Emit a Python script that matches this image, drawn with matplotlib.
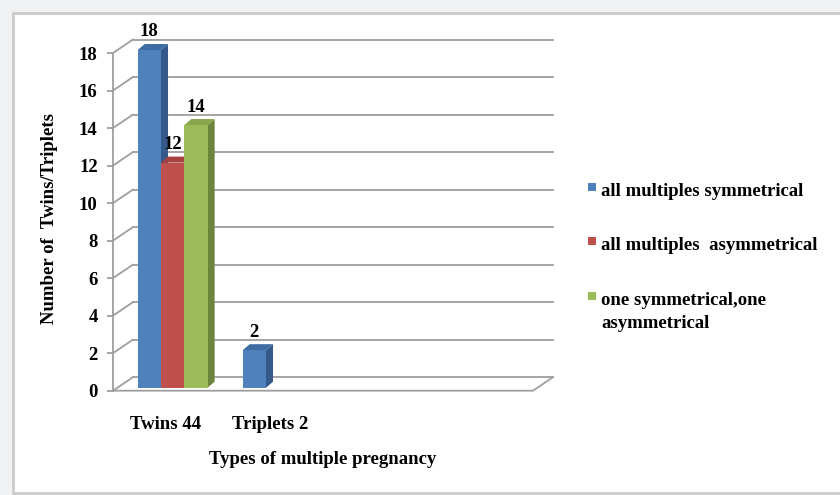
"""Bar chart of multiple pregnancy types drawn with a pseudo-3D look."""

import matplotlib
import matplotlib.pyplot as plt
from matplotlib.patches import Polygon, Rectangle

# no GUI backend
matplotlib.use('Agg')

categories = ['Twins 44', 'Triplets 2', '', '']
series = ['all multiples symmetrical',
          'all multiples  asymmetrical',
          'one symmetrical,one\nasymmetrical']
all_symmetrical = [18, 2, 0, 0]
all_asymmetrical = [12, 0, 0, 0]
one_each = [14, 0, 0, 0]
y_ticks = list(range(0, 20, 2))

front_colors = ['#4f81bd', '#c0504d', '#9bbb59']
top_colors = ['#3f6ca3', '#a8423f', '#87a64a']
side_colors = ['#35598a', '#8a3533', '#6c853c']
grid_color = '#9e9e9e'

plt.rcParams['font.family'] = ['Liberation Serif', 'DejaVu Serif']
plt.rcParams['font.weight'] = 'bold'

W, H = 840, 495
fig = plt.figure(figsize=(W / 100, H / 100), dpi=100)
fig.patch.set_facecolor('#f1f2f4')
fig.patches.append(Rectangle((13 / W, 1 - 493 / H), 1.0, 480 / H,
                             transform=fig.transFigure, facecolor='white',
                             edgecolor='#cbcbcb', linewidth=2, zorder=-5))

# axes: one category = 105 px, one unit of count = 18.76 px
x_max, y_max = 4.3, 19.5
ax = fig.add_axes([113 / W, 1 - 390.7 / H, x_max * 105 / W, y_max * 18.76 / H])
ax.set_xlim(0, x_max)
ax.set_ylim(0, y_max)
ax.patch.set_alpha(0)

# depth of the back wall and of the bars, in data units
wall_dx, wall_dy = 0.19, 0.72
bar_dx, bar_dy = 0.068, 0.16
depth_dx, depth_dy = 0.067, 0.32
bar_w = 0.222

n_cat = len(categories)

# back wall gridlines and the slanted lines joining them to the front axis
for v in y_ticks:
    ax.plot([wall_dx, n_cat + wall_dx], [v + wall_dy, v + wall_dy],
            color=grid_color, lw=1.3, zorder=1)
    ax.plot([0, wall_dx], [v, v + wall_dy], color=grid_color, lw=1.3, zorder=1)
# floor
ax.plot([0, n_cat, n_cat + wall_dx], [0, 0, wall_dy],
        color=grid_color, lw=1.3, zorder=1, clip_on=False)

values = [all_symmetrical, all_asymmetrical, one_each]
z = 3
for i in range(n_cat):
    for j, vals in enumerate(values):
        v = vals[i]
        if v == 0:
            continue
        x0 = i + 0.5 + bar_dx + (j - 1.5) * bar_w
        x1 = x0 + bar_w
        y0, y1 = bar_dy, v + bar_dy
        ax.add_patch(Polygon([(x1, y0), (x1 + depth_dx, y0 + depth_dy),
                              (x1 + depth_dx, y1 + depth_dy), (x1, y1)],
                             closed=True, facecolor=side_colors[j],
                             edgecolor='none', zorder=z))
        ax.add_patch(Polygon([(x0, y1), (x1, y1), (x1 + depth_dx, y1 + depth_dy),
                              (x0 + depth_dx, y1 + depth_dy)],
                             closed=True, facecolor=top_colors[j],
                             edgecolor='none', zorder=z))
        ax.bar(x0, v, width=bar_w, bottom=y0, align='edge',
               color=front_colors[j], edgecolor='none', zorder=z + 1)
        ax.annotate(str(v), xy=(x0 + bar_w / 2, y1), xytext=(0, 13),
                    textcoords='offset points', ha='center', va='center',
                    fontsize=13.5, fontweight='bold', annotation_clip=False)
        z += 2

for name in ['top', 'right', 'bottom']:
    ax.spines[name].set_visible(False)
ax.spines['left'].set_bounds(0, 18)
ax.spines['left'].set_color(grid_color)
ax.spines['left'].set_linewidth(1.3)

ax.set_yticks(y_ticks)
ax.tick_params(axis='y', length=4, width=1.3, color=grid_color, pad=7,
               labelsize=13.5)
ax.set_xticks([i + 0.5 for i in range(n_cat)])
ax.set_xticklabels(categories)
ax.tick_params(axis='x', length=0, pad=18, labelsize=13.5)

fig.text(50 / W, 1 - 218 / H, 'Number of  Twins/Triplets', rotation=90,
         ha='center', va='center', fontsize=13.5, fontweight='bold')
fig.text(323 / W, 1 - 460 / H, 'Types of multiple pregnancy',
         ha='center', va='center', fontsize=13.5, fontweight='bold')

# legend
legend_y = [187, 241, 296]
for name, color, ly in zip(series, front_colors, legend_y):
    fig.patches.append(Rectangle((588 / W, 1 - (ly + 4) / H), 8 / W, 8 / H,
                                 transform=fig.transFigure, facecolor=color,
                                 edgecolor='none'))
    fig.text(601 / W, 1 - (ly - 4) / H, name, ha='left', va='top',
             fontsize=13.5, fontweight='bold', linespacing=1.45,
             transform=fig.transFigure)

fig.savefig('out.png', dpi=100, facecolor=fig.get_facecolor())
